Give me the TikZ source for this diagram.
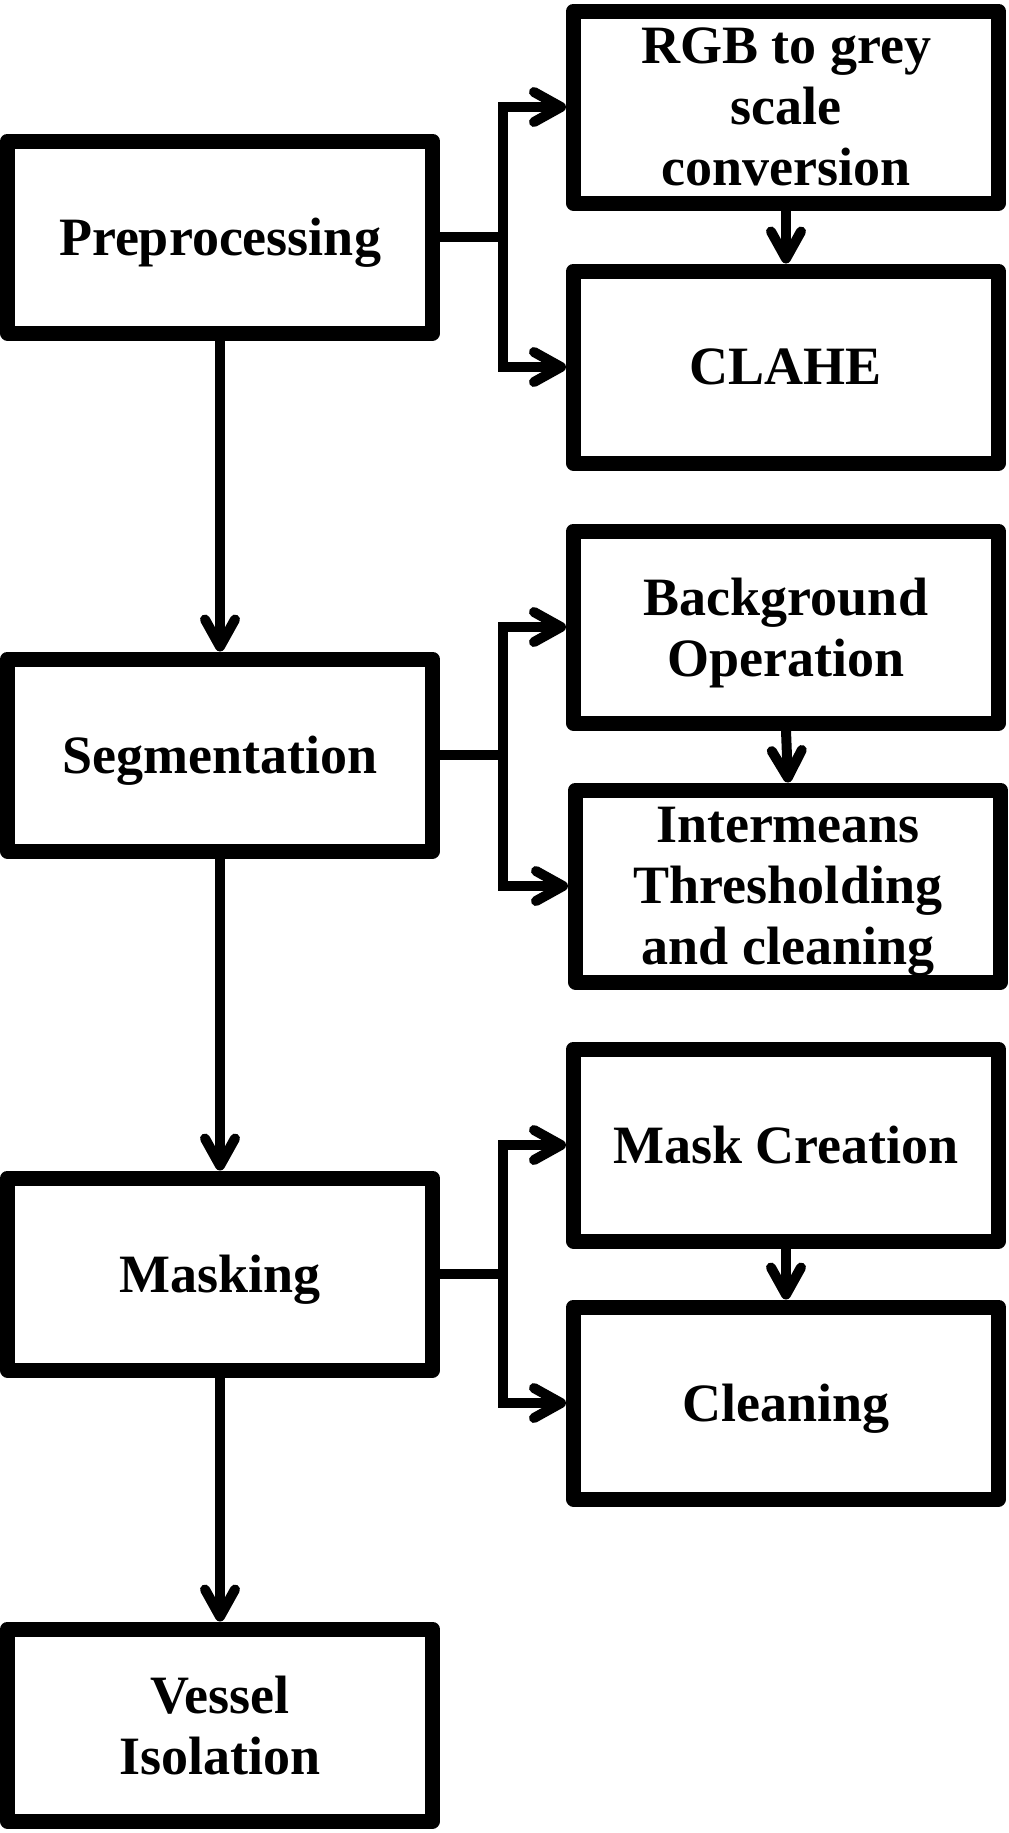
\documentclass[tikz,border=0pt]{standalone}
\usepackage{fontspec}
\setmainfont{Liberation Serif}
\usetikzlibrary{arrows.meta}

\tikzset{
  bloc/.style={draw, line width=7.5pt, line join=round, minimum width=212.5pt,
    minimum height=96pt, align=center, inner sep=0pt, text depth=0pt,
    font=\bfseries\fontsize{27}{30.5}\selectfont},
  trait/.style={line width=5pt},
  fleche/.style={trait, -{Straight Barb[length=13.5pt, width=15pt, round]}}
}

\begin{document}
\begin{tikzpicture}[x=0.5pt, y=-0.5pt]
    \useasboundingbox (0,0) rectangle (1008,1833);

    % colonne de gauche
    \node[bloc] (prep) at (220,237) {Preprocessing};
    \node[bloc] (seg) at (220,755) {Segmentation};
    \node[bloc] (mask) at (220,1274) {Masking};
    \node[bloc] (vessel) at (220,1725) {Vessel\\Isolation};

    % colonne de droite
    \node[bloc] (rgb) at (786,107) {RGB to grey\\scale\\conversion};
    \node[bloc] (clahe) at (786,367) {CLAHE};
    \node[bloc] (bg) at (786,627) {Background\\Operation};
    \node[bloc] (inter) at (788,886) {Intermeans\\Thresholding\\and cleaning};
    \node[bloc] (mcrea) at (786,1145) {Mask Creation};
    \node[bloc] (clean) at (786,1403) {Cleaning};

    \coordinate (j1) at (503,237);
    \coordinate (j2) at (503,755);
    \coordinate (j3) at (503,1274);

    \draw[fleche] (prep.south) -- (seg.north);
    \draw[fleche] (seg.south) -- (mask.north);
    \draw[fleche] (mask.south) -- (vessel.north);

    \draw[trait] (prep.east) -- (j1);
    \draw[fleche] (j1) |- (rgb.west);
    \draw[fleche] (j1) |- (clahe.west);
    \draw[fleche] (rgb.south) -- (clahe.north);

    \draw[trait] (seg.east) -- (j2);
    \draw[fleche] (j2) |- (bg.west);
    \draw[fleche] (j2) |- (inter.west);
    \draw[fleche] (bg.south) -- (inter.north);

    \draw[trait] (mask.east) -- (j3);
    \draw[fleche] (j3) |- (mcrea.west);
    \draw[fleche] (j3) |- (clean.west);
    \draw[fleche] (mcrea.south) -- (clean.north);

\end{tikzpicture}
\end{document}
